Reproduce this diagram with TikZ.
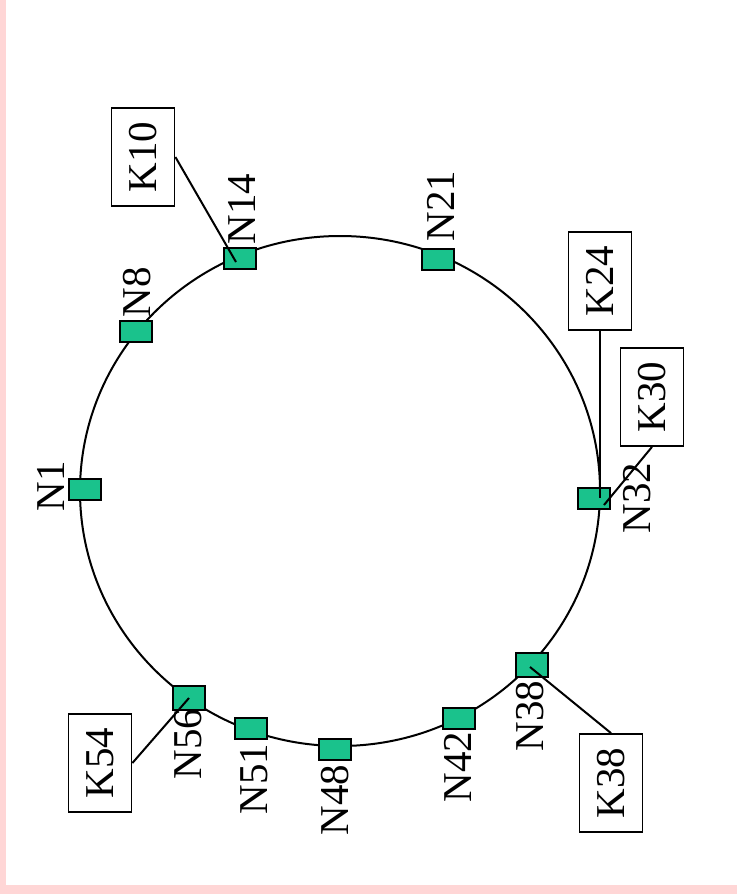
\documentclass[tikz,border=0pt]{standalone}
\usepackage{fontspec}
\usepackage{graphicx}
\setmainfont{Liberation Serif}
\definecolor{nodegreen}{RGB}{26,194,140}
\definecolor{framepink}{RGB}{255,214,214}
\begin{document}
\begin{tikzpicture}[x=1pt,y=-1pt,
  peer/.style={draw=black,line width=2pt,fill=nodegreen,minimum width=32pt,minimum height=21pt,inner sep=0pt},
  bigpeer/.style={peer,minimum height=24pt},
  lab/.style={inner sep=0pt,font=\fontsize{41}{41}\selectfont},
  keybox/.style={draw=black,line width=1.8pt,fill=white,minimum width=63pt,minimum height=98pt,inner sep=0pt,font=\fontsize{41}{41}\selectfont},
  link/.style={line width=2pt}]
\useasboundingbox (0,0) rectangle (737,894);
\fill[white] (0,0) rectangle (737,894);
\fill[framepink] (0,0) rectangle (6,894);
\fill[framepink] (0,885) rectangle (737,894);
% ring
\draw[line width=2pt] (340,491) ellipse [x radius=260, y radius=255];
% peers
\node[peer] (N1) at (84.5,489) {};
\node[peer] (N8) at (136,331) {};
\node[peer] (N14) at (240,258) {};
\node[peer] (N21) at (438,259) {};
\node[peer] (N32) at (594,498) {};
\node[bigpeer] (N38) at (532,665) {};
\node[peer] (N42) at (459,718) {};
\node[peer] (N48) at (335,749) {};
\node[peer] (N51) at (251,728) {};
\node[bigpeer] (N56) at (189,698) {};
% peer labels
\node[lab,rotate=90] (lN1) at (51,486) {N1};
\node[lab,rotate=90] (lN8) at (137,292) {N8};
\node[lab,rotate=90] (lN14) at (242,209) {N14};
\node[lab,rotate=90] (lN21) at (441,206) {N21};
\node[lab,rotate=90] (lN32) at (637,498) {N32};
\node[lab,rotate=90] (lN38) at (530,716) {N38};
\node[lab,rotate=90] (lN42) at (458,767) {N42};
\node[lab,rotate=90] (lN48) at (335,800) {N48};
\node[lab,rotate=90] (lN51) at (254,779) {N51};
\node[lab,rotate=90] (lN56) at (188,744) {N56};
% key boxes
\node[keybox] (K10) at (143,157) {\rotatebox{90}{K10}};
\node[keybox] (K24) at (600,281) {\rotatebox{90}{K24}};
\node[keybox] (K30) at (652,397) {\rotatebox{90}{K30}};
\node[keybox] (K38) at (611,783) {\rotatebox{90}{K38}};
\node[keybox] (K54) at (100,763) {\rotatebox{90}{K54}};
% key links
\draw[link] (K10.east) -- ([shift={(-4,4)}]N14.center);
\draw[link] (K24.south) -- (K24.south |- N32.center);
\draw[link] (K30.south) -- ([shift={(10,7)}]N32.center);
\draw[link] (K38.north) -- ([shift={(-2,2)}]N38.center);
\draw[link] (K54.east) -- (N56.center);
\end{tikzpicture}
\end{document}
